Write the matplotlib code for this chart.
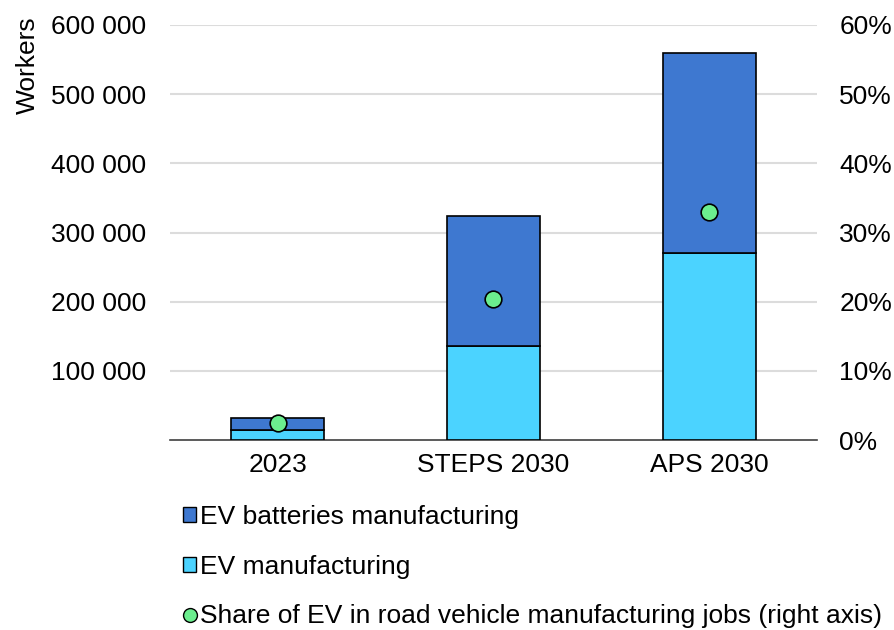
import matplotlib.pyplot as plt
from matplotlib.patches import Patch
from matplotlib.lines import Line2D
from matplotlib.ticker import FuncFormatter

plt.rcParams["font.family"] = ["Liberation Sans", "DejaVu Sans"]

# data
scenarios = ["2023", "STEPS 2030", "APS 2030"]
ev_manufacturing = [14500, 135800, 270000]
ev_batteries = [17700, 187900, 290000]
ev_share = [2.4, 20.4, 32.9]

dark_blue = "#3E78D0"
light_blue = "#4BD3FF"
green = "#6BEE8E"

fig = plt.figure(figsize=(8.95, 6.3), dpi=100)
ax = fig.add_axes([170 / 895, 1 - 440 / 630, 647 / 895, 415 / 630])

x = range(len(scenarios))
ax.bar(x, ev_manufacturing, width=0.43, color=light_blue, edgecolor="black", linewidth=1.2, zorder=3)
ax.bar(x, ev_batteries, width=0.43, bottom=ev_manufacturing, color=dark_blue,
       edgecolor="black", linewidth=1.2, zorder=3)

ax.set_xlim(-0.5, 2.5)
ax.set_ylim(0, 600000)
ax.set_yticks(range(100000, 600001, 100000))
ax.yaxis.set_major_formatter(FuncFormatter(lambda v, p: f"{int(v):,}".replace(",", " ")))
ax.set_xticks(list(x))
ax.set_xticklabels(scenarios)
ax.grid(axis="y", color="#dcdcdc", linewidth=1.5, zorder=0)
for s in ["top", "right", "left"]:
    ax.spines[s].set_visible(False)
ax.spines["bottom"].set_color("#404040")
ax.spines["bottom"].set_linewidth(1.2)
ax.tick_params(axis="both", length=0, labelsize=19, colors="black")
ax.tick_params(axis="x", pad=9)
ax.tick_params(axis="y", pad=17)

fig.text(28 / 895, 1 - 16 / 630, "Workers", rotation=90, ha="center", va="top", fontsize=19)

# share on the right axis
ax2 = ax.twinx()
ax2.set_ylim(0, 60)
ax2.set_yticks(range(0, 61, 10))
ax2.yaxis.set_major_formatter(FuncFormatter(lambda v, p: f"{int(v)}%"))
ax2.plot(list(x), ev_share, linestyle="none", marker="o", markersize=12,
         markerfacecolor=green, markeredgecolor="black", markeredgewidth=1.2, zorder=5)
for s in ax2.spines.values():
    s.set_visible(False)
ax2.tick_params(axis="y", length=0, labelsize=19, pad=16)

handles = [
    Patch(facecolor=dark_blue, edgecolor="black", label="EV batteries manufacturing"),
    Patch(facecolor=light_blue, edgecolor="black", label="EV manufacturing"),
    Line2D([], [], linestyle="none", marker="o", markersize=10, markerfacecolor=green,
           markeredgecolor="black", label="Share of EV in road vehicle manufacturing jobs (right axis)"),
]
fig.legend(handles=handles, loc="upper left", bbox_to_anchor=(183 / 895, 1 - 505 / 630),
           frameon=False, fontsize=19, handlelength=0.5, handleheight=0.5,
           handletextpad=0.15, labelspacing=0.97, borderaxespad=0, borderpad=0)

plt.savefig("out.png", dpi=100)
